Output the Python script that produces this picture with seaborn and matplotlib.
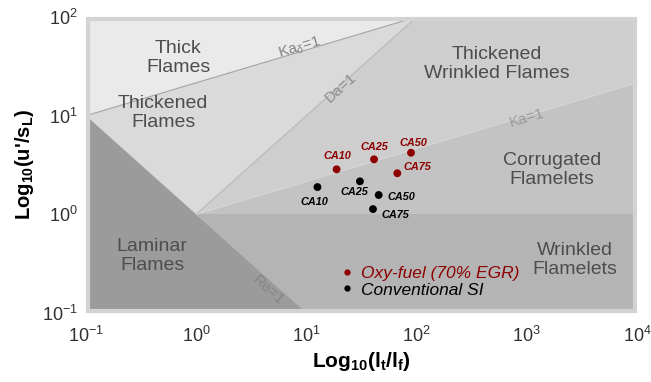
import numpy as np
import pandas as pd
import matplotlib
matplotlib.use("Agg")
import matplotlib.pyplot as plt
import seaborn as sns
from matplotlib.patches import Polygon, Rectangle

# ---------------- data ----------------
cases = ["CA10", "CA25", "CA50", "CA75"]
oxy_lt_lf = [18.8, 41.1, 89.0, 66.8]
oxy_u_sl = [2.86, 3.61, 4.21, 2.61]
conv_lt_lf = [12.6, 30.6, 45.3, 40.2]
conv_u_sl = [1.89, 2.16, 1.57, 1.13]
series_names = ["Oxy-fuel (70% EGR)", "Conventional SI"]

x_ticks = [1e-1, 1e0, 1e1, 1e2, 1e3, 1e4]
x_tick_labels = [r"$10^{-1}$", r"$10^{0}$", r"$10^{1}$", r"$10^{2}$", r"$10^{3}$", r"$10^{4}$"]
y_ticks = [1e-1, 1e0, 1e1, 1e2]
y_tick_labels = [r"$10^{-1}$", r"$10^{0}$", r"$10^{1}$", r"$10^{2}$"]

# regime boundaries (Borghi diagram)
ka_delta_x = [0.1, 100.0]
ka_delta_y = [10.0, 100.0]
da_x = [1.0, 100.0]
da_y = [1.0, 100.0]
ka_x = [1.0, 1e4]
ka_y = [1.0, 21.5]
re_x = [0.1, 1.0, 10.0]
re_y = [10.0, 1.0, 0.1]
unity_x = [1.0, 1e4]
unity_y = [1.0, 1.0]

# ---------------- style ----------------
sns.set_theme(style="white")
plt.rcParams["font.family"] = ["Liberation Sans", "DejaVu Sans"]
plt.rcParams["mathtext.fontset"] = "custom"
plt.rcParams["mathtext.rm"] = "Liberation Sans"
plt.rcParams["mathtext.it"] = "Liberation Sans:italic"
plt.rcParams["mathtext.bf"] = "Liberation Sans:bold"

fig = plt.figure(figsize=(6.51, 3.82), dpi=100)
ax = fig.add_axes([86 / 651, 1 - 313 / 382, 551 / 651, 296 / 382])
ax.set_xscale("log")
ax.set_yscale("log")
ax.set_xlim(x_ticks[0], x_ticks[-1])
ax.set_ylim(y_ticks[0], y_ticks[-1])

xmin, xmax = x_ticks[0], x_ticks[-1]
ymin, ymax = y_ticks[0], y_ticks[-1]

# region fills
ax.add_patch(Rectangle((xmin, ymin), xmax - xmin, ymax - ymin, facecolor="#eaeaea", edgecolor="none", zorder=0))
thickened = [(ka_delta_x[0], ka_delta_y[0]), (ka_delta_x[1], ka_delta_y[1]), (da_x[0], da_y[0])]
ax.add_patch(Polygon(thickened, closed=True, facecolor="#dadada", edgecolor="none", zorder=0.1))
thick_wrinkled = [(da_x[0], da_y[0]), (da_x[1], da_y[1]), (xmax, ymax), (ka_x[1], ka_y[1])]
ax.add_patch(Polygon(thick_wrinkled, closed=True, facecolor="#cecece", edgecolor="none", zorder=0.1))
corrugated = [(ka_x[0], ka_y[0]), (ka_x[1], ka_y[1]), (unity_x[1], unity_y[1])]
ax.add_patch(Polygon(corrugated, closed=True, facecolor="#c3c3c3", edgecolor="none", zorder=0.1))
wrinkled = [(unity_x[0], unity_y[0]), (unity_x[1], unity_y[1]), (xmax, ymin), (re_x[2], re_y[2])]
ax.add_patch(Polygon(wrinkled, closed=True, facecolor="#b4b4b4", edgecolor="none", zorder=0.1))
laminar = list(zip(re_x, re_y)) + [(xmin, ymin)]
ax.add_patch(Polygon(laminar, closed=True, facecolor="#9b9b9b", edgecolor="none", zorder=0.1))

# boundary lines
ax.plot(ka_delta_x, ka_delta_y, color="#a4a4a4", lw=0.8, zorder=0.5)
ax.plot(da_x, da_y, color="#b8b8b8", lw=0.8, zorder=0.5)
ax.plot(ka_x, ka_y, color="#d6d6d6", lw=0.8, zorder=0.5)

# frame
for s in ax.spines.values():
    s.set_visible(False)
ax.add_patch(Rectangle((0.0035, 0.006), 0.993, 0.988, transform=ax.transAxes, fill=False,
                       edgecolor="#d3d3d3", lw=3.0, zorder=3, clip_on=False))

# region labels
lab_kw = dict(transform=ax.transAxes, ha="center", va="center", color="#4d4d4d",
              fontsize=14, linespacing=1.15, zorder=2)
ax.text(0.167, 0.861, "Thick\nFlames", **lab_kw)
ax.text(0.140, 0.676, "Thickened\nFlames", **lab_kw)
ax.text(0.745, 0.841, "Thickened\nWrinkled Flames", **lab_kw)
ax.text(0.846, 0.483, "Corrugated\nFlamelets", **lab_kw)
ax.text(0.887, 0.179, "Wrinkled\nFlamelets", **lab_kw)
ax.text(0.120, 0.193, "Laminar\nFlames", **lab_kw)

# boundary labels
bl_kw = dict(transform=ax.transAxes, ha="center", va="center", fontsize=11, zorder=2)
ax.text((300 - 86) / 551, (313 - 48) / 296, r"Ka$_{\delta}$=1", rotation=16.8, color="#858585", **bl_kw)
ax.text((341 - 86) / 551, (313 - 88) / 296, "Da=1", rotation=42, color="#8c8c8c", **bl_kw)
ax.text((527 - 86) / 551, (313 - 118) / 296, "Ka=1", rotation=16.5, color="#9a9a9a", **bl_kw)
ax.text((268 - 86) / 551, (313 - 290) / 296, "Re=1", rotation=-42, color="#858585", **bl_kw)

# data points
df = pd.DataFrame({
    "lt_lf": oxy_lt_lf + conv_lt_lf,
    "u_sl": oxy_u_sl + conv_u_sl,
    "case": cases + cases,
    "series": [series_names[0]] * len(cases) + [series_names[1]] * len(cases),
})
red = "#8e0000"
palette = {series_names[0]: red, series_names[1]: "#000000"}
sns.scatterplot(data=df, x="lt_lf", y="u_sl", hue="series", palette=palette, s=32,
                edgecolor="none", ax=ax, zorder=4)

# point labels (offsets in pixels)
offsets = {
    series_names[0]: [(1, 13), (0, 12), (2, 10), (20, 6)],
    series_names[1]: [(-3, -15), (-6, -11), (23, -2), (22, -6)],
}
for name in series_names:
    sub = df[df["series"] == name].reset_index(drop=True)
    for i, row in sub.iterrows():
        dx, dy = offsets[name][i]
        ax.annotate(row["case"], (row["lt_lf"], row["u_sl"]), xytext=(dx * 0.72, dy * 0.72),
                    textcoords="offset points", ha="center", va="center", fontsize=7.8,
                    fontweight="bold", fontstyle="italic", color=palette[name], zorder=5)

# legend
sns.move_legend(ax, "center left", bbox_to_anchor=((338 - 86) / 551, (313 - 281.5) / 296),
                frameon=False, title=None, fontsize=12.5, handlelength=1.0,
                handletextpad=0.3, labelspacing=0.1, borderpad=0, borderaxespad=0,
                markerscale=0.8)
leg = ax.get_legend()
for t in leg.get_texts():
    t.set_fontstyle("italic")
    t.set_color(palette[t.get_text()])

# ticks and labels
ax.set_xticks(x_ticks)
ax.set_xticklabels(x_tick_labels)
ax.set_yticks(y_ticks)
ax.set_yticklabels(y_tick_labels)
ax.minorticks_off()
ax.tick_params(axis="both", which="both", length=0, labelsize=13, labelcolor="#303030")
ax.tick_params(axis="x", pad=9)
ax.tick_params(axis="y", pad=6)
ax.set_xlabel(r"Log$_{\mathbf{10}}$(l$_{\mathbf{t}}$/l$_{\mathbf{f}}$)", fontsize=15,
              fontweight="bold", color="black", labelpad=3)
ax.set_ylabel(r"Log$_{\mathbf{10}}$(u'/s$_{\mathbf{L}}$)", fontsize=14.5,
              fontweight="bold", color="black", labelpad=4)
ax.grid(False)

fig.savefig("out.png", dpi=100)
